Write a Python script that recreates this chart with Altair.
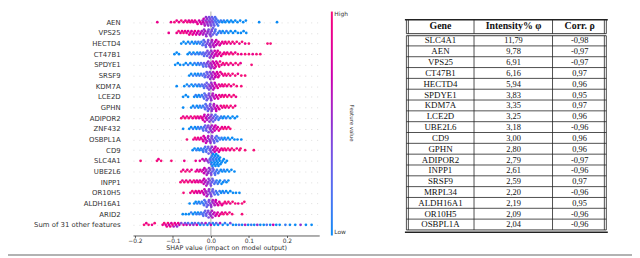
import json
import altair as alt
import pandas as pd

# ---------------- data: SHAP beeswarm (shap value in thousandths, feature value in tenths)
AEN = [(-141,9),(-105,9),(-96,10),(-90,9),(-84,9),(-78,10),(-72,9),(-67,9),(-62,10),(-58,8),(-54,9),(-50,9),(-46,8),(-42,9),(-38,8),(-35,9),(-31,7),(-28,8),(-25,7),(-22,6),(-20,7),(-19,7),(-17,6),(-16,6),(-14,5),(-13,5),(-11,6),(-10,5),(-9,5),(-7,5),(-6,4),(-5,4),(-3,5),(-2,4),(-1,4),(1,4),(2,4),(3,3),(5,4),(6,3),(7,3),(9,3),(10,2),(11,2),(13,2),(14,2),(16,2),(18,1),(19,1),(22,1),(26,1),(30,0),(34,1),(38,0),(43,0),(48,0),(53,0),(58,0),(64,0),(70,0),(77,0),(85,0),(92,0),(127,0),(174,0)]
VPS25 = [(-111,9),(-90,9),(-85,10),(-80,9),(-76,9),(-72,10),(-68,9),(-64,9),(-60,8),(-57,9),(-54,9),(-51,8),(-48,9),(-45,8),(-42,9),(-39,8),(-36,7),(-33,8),(-30,7),(-27,7),(-24,6),(-21,6),(-19,6),(-18,5),(-15,6),(-13,5),(-12,5),(-9,5),(-7,5),(-6,4),(-3,5),(-1,4),(0,4),(2,4),(3,4),(5,3),(6,3),(9,3),(11,2),(12,2),(15,2),(19,1),(23,1),(27,1),(31,0),(36,0),(41,1),(46,0),(52,0),(58,0),(64,0),(71,0),(79,0),(86,0),(93,0)]
HECTD4 = [(-78,0),(-72,0),(-66,0),(-60,0),(-55,1),(-50,0),(-45,0),(-41,1),(-37,0),(-33,1),(-29,1),(-25,1),(-22,2),(-20,2),(-19,2),(-16,3),(-14,3),(-13,3),(-10,4),(-8,4),(-7,4),(-4,5),(-2,5),(-1,5),(2,5),(3,6),(5,6),(7,6),(8,6),(11,7),(13,7),(14,7),(17,7),(20,8),(23,8),(26,8),(30,9),(34,9),(38,9),(42,9),(47,10),(52,9),(57,10),(62,9),(68,10),(75,9),(82,10),(90,9),(100,10),(149,10),(157,10)]
CT47B1 = [(-96,0),(-90,0),(-84,0),(-61,0),(-56,0),(-51,1),(-46,0),(-41,1),(-36,0),(-32,1),(-28,1),(-24,2),(-20,2),(-18,2),(-16,3),(-12,3),(-10,3),(-9,4),(-6,4),(-4,4),(-3,5),(0,5),(1,5),(3,6),(5,6),(6,6),(9,7),(10,7),(12,7),(15,8),(17,8),(18,8),(21,8),(24,9),(27,9),(31,9),(35,9),(39,10),(43,9),(48,10),(53,9),(58,10),(64,9),(71,10),(80,9),(90,10),(100,10),(110,9),(120,10),(130,10)]
SPDYE1 = [(-94,0),(-87,0),(-81,0),(-72,0),(-66,0),(-60,1),(-54,0),(-48,0),(-43,1),(-38,0),(-34,1),(-30,1),(-26,2),(-22,2),(-20,2),(-18,3),(-14,3),(-12,3),(-10,4),(-7,5),(-6,4),(-4,5),(-1,6),(0,5),(2,6),(4,6),(5,7),(8,7),(9,7),(11,8),(13,8),(14,8),(17,8),(20,9),(22,9),(24,9),(28,9),(32,10),(36,9),(41,10),(46,9),(52,10),(58,9),(65,10),(72,10),(78,9),(107,10)]
SRSF9 = [(-57,0),(-52,0),(-47,1),(-42,0),(-38,1),(-34,0),(-30,1),(-26,1),(-22,2),(-18,2),(-16,2),(-14,3),(-11,3),(-9,3),(-8,4),(-5,4),(-3,4),(-2,5),(1,5),(2,5),(4,6),(6,6),(7,6),(10,7),(11,7),(13,7),(16,8),(18,8),(19,8),(22,8),(25,9),(29,9),(33,9),(37,10),(41,9),(46,10),(51,9),(57,10),(64,10),(71,9),(80,10),(90,10)]
KDM7A = [(-90,0),(-70,0),(-63,0),(-57,1),(-51,0),(-46,0),(-41,1),(-36,0),(-32,1),(-28,1),(-24,2),(-20,2),(-18,2),(-16,3),(-12,3),(-11,3),(-9,4),(-6,4),(-5,4),(-3,5),(0,5),(1,5),(3,6),(5,6),(6,6),(9,7),(10,7),(12,7),(15,8),(18,8),(21,8),(25,9),(29,9),(33,9),(37,10),(42,9),(47,10),(53,9),(60,10),(68,10),(80,10)]
LCE2D = [(-73,0),(-66,0),(-60,0),(-44,0),(-40,1),(-36,0),(-32,0),(-28,1),(-24,1),(-20,2),(-18,2),(-17,2),(-14,3),(-12,3),(-11,3),(-8,4),(-6,4),(-5,4),(-2,5),(0,5),(1,5),(4,6),(5,6),(7,6),(10,7),(13,7),(16,8),(19,8),(22,9),(26,9),(30,9),(34,10),(38,9),(43,10),(48,9),(54,10),(60,10),(66,9)]
GPHN = [(-73,0),(-52,0),(-47,0),(-42,1),(-37,0),(-33,0),(-29,1),(-25,1),(-21,1),(-17,2),(-15,2),(-14,2),(-11,3),(-9,3),(-8,3),(-5,4),(-3,4),(-2,4),(1,5),(2,5),(4,5),(7,6),(8,6),(10,6),(13,7),(14,7),(16,7),(19,8),(22,8),(26,9),(30,9),(34,10),(38,9),(42,10),(47,9),(52,10),(58,10),(64,9)]
ADIPOR2 = [(-78,10),(-73,9),(-68,10),(-63,9),(-58,10),(-53,9),(-48,9),(-43,10),(-39,9),(-35,9),(-31,8),(-27,9),(-23,8),(-21,8),(-19,8),(-17,7),(-16,7),(-13,7),(-11,6),(-10,6),(-7,6),(-5,5),(-4,5),(-1,5),(1,4),(2,4),(5,4),(6,3),(8,3),(11,3),(12,2),(14,2),(17,2),(20,1),(23,1),(27,1),(31,0),(35,0),(40,1),(45,0),(51,0),(57,0),(63,0),(69,0)]
ZNF432 = [(-73,0),(-57,0),(-52,0),(-47,1),(-42,0),(-38,0),(-34,1),(-30,1),(-26,1),(-22,2),(-20,2),(-18,2),(-15,3),(-13,3),(-12,3),(-9,4),(-7,4),(-6,4),(-3,5),(-1,5),(0,5),(3,6),(4,6),(6,6),(9,7),(10,7),(12,7),(15,8),(18,8),(21,9),(25,9),(29,9),(33,10),(37,9),(41,10),(46,9),(51,10)]
OSBPL1A = [(-63,10),(-46,9),(-42,10),(-38,9),(-34,9),(-30,9),(-26,8),(-22,8),(-20,8),(-19,8),(-16,7),(-14,7),(-13,7),(-10,6),(-8,6),(-7,6),(-4,5),(-2,5),(-1,5),(2,4),(3,4),(5,4),(8,3),(9,3),(11,3),(14,2),(15,2),(17,2),(20,1),(24,1),(28,1),(32,0),(36,0),(40,1),(45,0),(50,0),(56,0),(62,0),(70,0),(80,0)]
CD9 = [(-48,0),(-43,0),(-38,1),(-34,0),(-30,0),(-26,1),(-22,1),(-20,1),(-18,1),(-15,2),(-13,2),(-12,2),(-9,2),(-7,3),(-6,3),(-3,3),(-1,4),(0,4),(3,5),(4,5),(6,6),(9,7),(10,7),(12,7),(15,8),(18,8),(21,8),(24,9),(28,9),(32,9),(36,10),(40,9),(45,10),(50,9),(55,10),(61,10),(68,9),(75,10),(78,10),(90,10),(113,10)]
SLC4A1 = [(-185,10),(-142,10),(-138,9),(-131,10),(-104,10),(-70,9),(-40,9),(-29,8),(-22,7),(-17,6),(-13,6),(-9,5),(-6,4),(-3,3),(-1,2),(0,1),(1,2),(2,0),(3,1),(4,0),(5,1),(6,0),(7,1),(8,1),(9,0),(10,0),(11,0),(12,0),(13,1),(14,0),(15,0),(16,1),(17,0),(18,0),(19,0),(20,0),(21,0),(23,0),(24,0),(25,0),(28,0),(31,0),(34,0),(38,0),(42,0)]
UBE2L6 = [(-78,10),(-73,9),(-67,10),(-62,9),(-56,10),(-51,9),(-40,9),(-36,8),(-32,9),(-28,8),(-24,8),(-20,7),(-18,7),(-17,7),(-14,6),(-12,6),(-11,6),(-8,5),(-6,5),(-5,5),(-2,4),(0,4),(1,4),(4,3),(5,3),(7,3),(10,2),(11,2),(13,2),(16,1),(19,1),(22,1),(26,0),(30,0),(34,1),(38,0),(43,0),(48,0),(54,0),(62,0)]
INPP1 = [(-80,10),(-75,9),(-70,10),(-65,9),(-60,10),(-55,9),(-50,9),(-45,10),(-41,9),(-37,8),(-33,9),(-29,8),(-25,8),(-21,7),(-19,7),(-18,7),(-15,6),(-13,6),(-12,6),(-9,5),(-7,5),(-6,5),(-3,4),(-1,4),(0,4),(3,3),(4,3),(6,3),(9,2),(12,2),(15,1),(18,1),(21,1),(24,0),(28,0),(32,0),(36,1),(41,0),(46,0)]
OR10H5 = [(-72,10),(-54,9),(-49,10),(-44,9),(-40,9),(-36,8),(-32,9),(-28,8),(-24,8),(-20,7),(-18,7),(-17,7),(-14,6),(-12,6),(-11,6),(-8,5),(-6,5),(-5,5),(-2,4),(0,4),(1,4),(4,3),(5,3),(7,3),(10,2),(13,2),(16,1),(19,1),(23,1),(27,0),(31,0),(35,1),(40,0),(45,0),(51,0),(58,0),(66,0),(75,0)]
ALDH16A1 = [(-56,0),(-44,0),(-40,0),(-36,1),(-32,0),(-28,1),(-24,1),(-20,1),(-18,2),(-17,2),(-14,2),(-12,3),(-11,3),(-8,3),(-6,4),(-5,4),(-2,4),(0,5),(1,5),(4,5),(5,6),(7,6),(10,6),(12,7),(13,7),(16,7),(19,8),(22,8),(25,9),(29,9),(33,9),(37,10),(41,9),(46,10),(51,9),(57,10),(64,10),(72,9),(82,10),(88,10)]
ARID2 = [(-74,0),(-66,0),(-58,0),(-52,1),(-47,0),(-42,0),(-38,1),(-34,0),(-30,1),(-26,1),(-22,2),(-20,2),(-18,2),(-15,3),(-13,3),(-12,3),(-9,4),(-7,4),(-6,4),(-3,5),(-1,5),(0,5),(3,6),(4,6),(6,6),(9,7),(12,7),(15,8),(18,8),(21,9),(25,9),(29,9),(33,10),(38,9),(43,10),(49,9),(56,10),(82,10)]
SUM_OTHER = [(-176,10),(-170,9),(-164,10),(-155,9),(-148,10),(-127,9),(-123,10),(-119,8),(-116,9),(-113,10),(-110,7),(-107,9),(-104,8),(-101,10),(-98,6),(-95,9),(-92,8),(-89,5),(-86,9),(-83,7),(-78,4),(-72,8),(-68,3),(-64,7),(-60,2),(-55,6),(-50,1),(-46,5),(-42,3),(-37,8),(-33,1),(-28,0),(-24,4),(-19,1),(-14,6),(-9,0),(-4,2),(0,7),(5,1),(9,0),(14,3),(19,0),(24,6),(31,0),(37,1),(44,0),(51,4),(58,0),(66,0),(74,2),(82,0),(90,6),(98,0),(106,1),(114,0),(122,5),(130,0),(139,0),(147,2),(156,0),(164,7),(172,0),(181,0),(196,1),(208,0),(222,0),(236,5),(250,0),(265,0)]

FEATURES = ["AEN", "VPS25", "HECTD4", "CT47B1", "SPDYE1", "SRSF9", "KDM7A", "LCE2D", "GPHN",
            "ADIPOR2", "ZNF432", "OSBPL1A", "CD9", "SLC4A1", "UBE2L6", "INPP1", "OR10H5",
            "ALDH16A1", "ARID2", "Sum of 31 other features"]
ROWS = [AEN, VPS25, HECTD4, CT47B1, SPDYE1, SRSF9, KDM7A, LCE2D, GPHN, ADIPOR2, ZNF432,
        OSBPL1A, CD9, SLC4A1, UBE2L6, INPP1, OR10H5, ALDH16A1, ARID2, SUM_OTHER]
X_TICKS = [-0.2, -0.1, 0.0, 0.1, 0.2]

# ---------------- data: table
TBL_HEAD = ["Gene", "Intensity% \u03c6", "Corr. \u03c1"]
TBL_GENES = ["SLC4A1", "AEN", "VPS25", "CT47B1", "HECTD4", "SPDYE1", "KDM7A", "LCE2D", "UBE2L6",
             "CD9", "GPHN", "ADIPOR2", "INPP1", "SRSF9", "MRPL34", "ALDH16A1", "OR10H5", "OSBPL1A"]
TBL_INTENSITY = [11.79, 9.78, 6.91, 6.16, 5.94, 3.83, 3.35, 3.25, 3.18, 3.00, 2.80, 2.79, 2.61,
                 2.59, 2.20, 2.19, 2.09, 2.04]
TBL_CORR = [-0.98, -0.97, -0.97, 0.97, 0.96, 0.95, 0.97, 0.96, -0.96, 0.96, 0.96, -0.97, -0.96,
            0.97, -0.96, 0.95, -0.96, -0.96]

# ---------------- layout (screen pixels)
OX, OY = 134.6, 10.0          # plot origin on screen
PLOT_W, PLOT_H = 188.6, 226.8
X_DOM = [-0.205, 0.285]
N = len(FEATURES)
ROW_PX = PLOT_H / (N + 1)
PX_PER = PLOT_W / (X_DOM[1] - X_DOM[0])
DOT_W, DOT_STEP = 3.0, 1.7

def swarm(vals):
    order = sorted(range(len(vals)), key=lambda i: vals[i])
    last = {}
    offs = [0.0] * len(vals)
    for i in order:
        xp = vals[i] * PX_PER
        chosen = 0
        for s in [0, 1, -1, 2, -2, 3, -3, 4, -4, 5, -5]:
            if s not in last or xp - last[s] >= DOT_W:
                chosen = s
                break
        last[chosen] = xp
        offs[i] = chosen * DOT_STEP / ROW_PX
    return offs

recs = []
for i, (name, pts) in enumerate(zip(FEATURES, ROWS)):
    base = N - 1 - i
    vals = [p[0] / 1000 for p in pts]
    offs = swarm(vals)
    for (v, c), o in zip(pts, offs):
        recs.append({"feature": name, "shap": v / 1000, "feat": c / 10, "ypos": base + o})
pts_df = pd.DataFrame(recs)

names_by_pos = list(reversed(FEATURES))
label_expr = json.dumps(names_by_pos) + "[round(datum.value)]"

xs = alt.Scale(domain=X_DOM, nice=False, zero=False)
ys = alt.Scale(domain=[-1, N], nice=False, zero=False)

points = alt.Chart(pts_df).mark_circle(size=7.5, opacity=1).encode(
    x=alt.X("shap:Q", scale=xs, axis=alt.Axis(
        values=X_TICKS, format=".1f", grid=False, tickSize=2, labelPadding=0,
        labelFontSize=6, titleFontSize=6.5, titlePadding=1, titleFontWeight="normal",
        title="SHAP value (impact on model output)", domainColor="#333", tickColor="#333",
        labelColor="#333", titleColor="#333", domainWidth=0.8, tickWidth=0.8)),
    y=alt.Y("ypos:Q", scale=ys, axis=alt.Axis(
        values=list(range(N)), labelExpr=label_expr, grid=True, gridDash=[1, 5],
        gridColor="#bbbbbb", gridWidth=0.5, domain=False, ticks=False, labelPadding=13,
        labelFontSize=7, labelColor="#333", title=None)),
    color=alt.Color("feat:Q", scale=alt.Scale(domain=[0, 0.5, 1],
                                              range=["#0a8af5", "#9030d0", "#f5107a"]),
                    legend=alt.Legend(
                        orient="none", legendX=335 - OX, legendY=0, direction="vertical",
                        gradientLength=PLOT_H, gradientThickness=2, gradientStrokeWidth=0,
                        values=[0, 1], labelExpr="datum.value > 0.5 ? 'High' : 'Low'",
                        labelFontSize=6, labelColor="#333", labelOffset=1.5,
                        labelBaseline="middle", title="Feature value", titleOrient="right",
                        titleFontSize=5.5, titleFontWeight="normal", titleColor="#333",
                        titleAnchor="middle", titlePadding=1, padding=0)),
)

zero = alt.Chart(pd.DataFrame({"z": [0.0]})).mark_rule(color="#999999", strokeWidth=0.8).encode(
    x=alt.X("z:Q", scale=xs))

bees = alt.layer(zero, points)

# ---------------- table
T_ROW0, T_STEP = 39.3, 10.965
nT = len(TBL_GENES)
t_xs = alt.Scale(domain=[0, 640], range=[-OX, 640 - OX], nice=False, zero=False)
t_ys = alt.Scale(domain=[0, nT - 1], range=[T_ROW0 - OY, T_ROW0 + (nT - 1) * T_STEP - OY],
                 nice=False, zero=False)
COL_C = [446.0, 520.0, 587.0]
V_LINES = [411.5, 413.5, 480.0, 559.5, 612.0, 614.0]

def fmt(v):
    return f"{v:.2f}".replace(".", ",")

cells = []
for k, (g, it, c) in enumerate(zip(TBL_GENES, TBL_INTENSITY, TBL_CORR)):
    cells.append({"row": k, "x": COL_C[0], "txt": g, "kind": "gene"})
    cells.append({"row": k, "x": COL_C[1], "txt": fmt(it), "kind": "num"})
    cells.append({"row": k, "x": COL_C[2], "txt": fmt(c), "kind": "num"})
for j, h in enumerate(TBL_HEAD):
    cells.append({"row": -1.3, "x": COL_C[j], "txt": h, "kind": "head"})
cells_df = pd.DataFrame(cells)

head_top, head_bot, body_top = -1.92, -0.63, -0.44
segs = []
segs.append({"x": 410.0, "x2": 615.5, "y": head_top, "y2": head_top, "w": 1.6})
segs.append({"x": 411.5, "x2": 614.0, "y": head_bot, "y2": head_bot, "w": 0.9})
segs.append({"x": 411.5, "x2": 614.0, "y": body_top, "y2": body_top, "w": 0.9})
for k in range(nT - 1):
    segs.append({"x": 411.5, "x2": 614.0, "y": k + 0.5, "y2": k + 0.5, "w": 0.8})
segs.append({"x": 411.5, "x2": 614.0, "y": nT - 0.5, "y2": nT - 0.5, "w": 0.9})
segs.append({"x": 410.0, "x2": 615.5, "y": nT - 0.28, "y2": nT - 0.28, "w": 1.6})
for vx in V_LINES:
    segs.append({"x": vx, "x2": vx, "y": head_top, "y2": head_bot, "w": 0.8})
    segs.append({"x": vx, "x2": vx, "y": body_top, "y2": nT - 0.5, "w": 0.8})
segs_df = pd.DataFrame(segs)

frame_row = (256.5 - T_ROW0) / T_STEP
frame_df = pd.DataFrame([{"x": 8.0, "x2": 640.0, "y": frame_row, "y2": frame_row}])

TX = alt.X("x:Q", scale=t_xs, axis=None)
TY = alt.Y("row:Q", scale=t_ys, axis=None)

rules = alt.Chart(segs_df).mark_rule(color="#222222").encode(
    x=alt.X("x:Q", scale=t_xs, axis=None), x2="x2:Q",
    y=alt.Y("y:Q", scale=t_ys, axis=None), y2="y2:Q",
    strokeWidth=alt.StrokeWidth("w:Q", scale=None))
frame = alt.Chart(frame_df).mark_rule(color="#999999", strokeWidth=1.5).encode(
    x=alt.X("x:Q", scale=t_xs, axis=None), x2="x2:Q",
    y=alt.Y("y:Q", scale=t_ys, axis=None), y2="y2:Q")

base_t = alt.Chart(cells_df)
gene_txt = base_t.transform_filter(alt.datum.kind == "gene").mark_text(
    font="Liberation Serif", fontSize=9, color="#111").encode(x=TX, y=TY, text="txt:N")
num_txt = base_t.transform_filter(alt.datum.kind == "num").mark_text(
    font="Liberation Serif", fontSize=8.5, color="#111").encode(x=TX, y=TY, text="txt:N")
head_txt = base_t.transform_filter(alt.datum.kind == "head").mark_text(
    font="Liberation Serif", fontSize=10, fontWeight="bold", color="#111").encode(
    x=TX, y=TY, text="txt:N")

table = alt.layer(rules, frame, gene_txt, num_txt, head_txt)

chart = alt.layer(bees, table).resolve_scale(x="independent", y="independent").properties(
    width=PLOT_W, height=PLOT_H,
    autosize=alt.AutoSizeParams(type="none"),
    padding={"left": OX - 8, "top": OY - 8, "right": 640 - OX - PLOT_W,
             "bottom": 258 - OY - PLOT_H},
).configure_view(stroke=None).configure_axis(
    labelFont="DejaVu Sans", titleFont="DejaVu Sans"
).configure_legend(labelFont="DejaVu Sans", titleFont="DejaVu Sans")

chart.save("out.html", embed_options={"renderer": "svg", "actions": False})
